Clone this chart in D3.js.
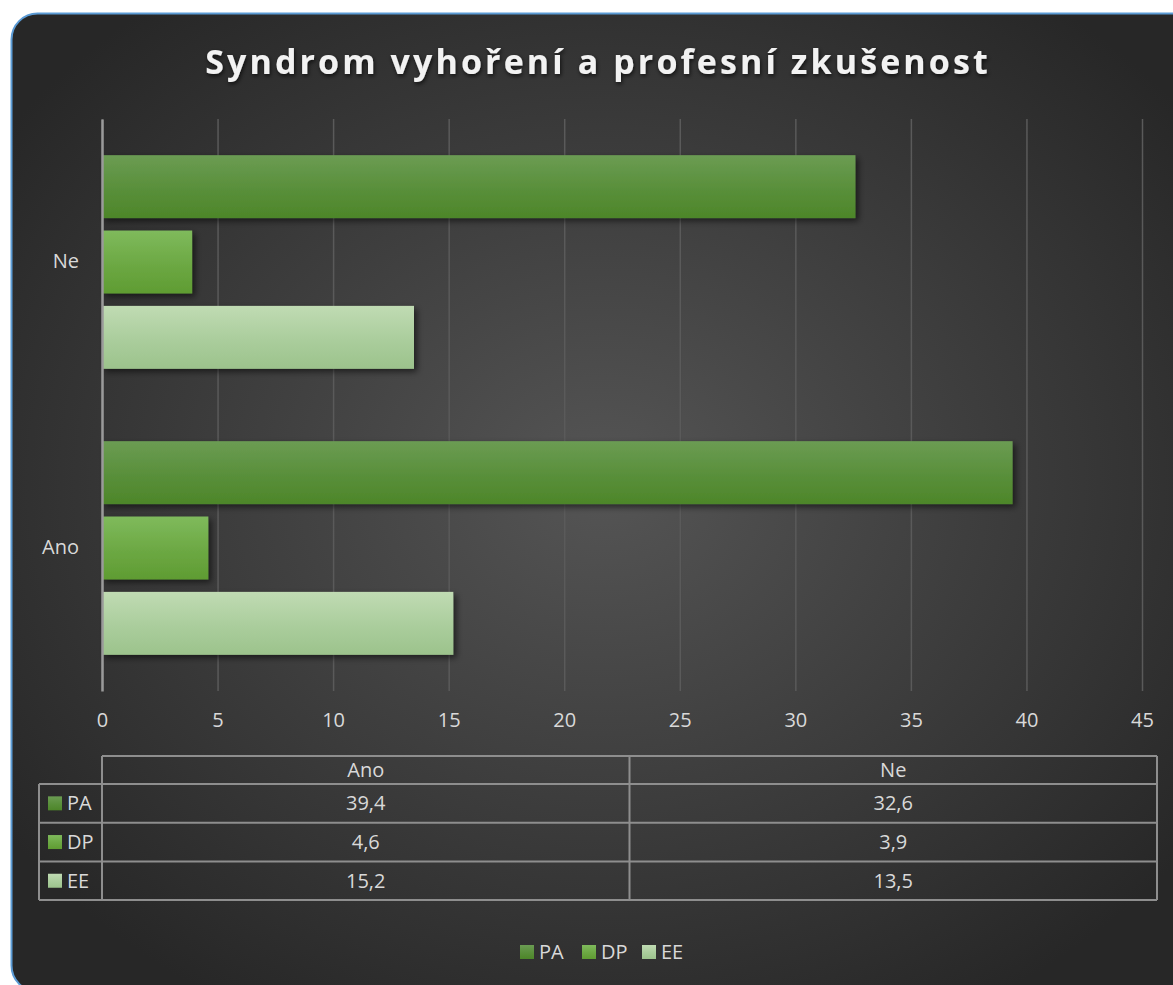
<!DOCTYPE html>
<html>
<head>
<meta charset="utf-8">
<script src="https://cdn.jsdelivr.net/npm/d3@7"></script>
<style>
  body { margin: 0; background: #fff; }
  svg text { font-family: "Open Sans", "Noto Sans", sans-serif; }
</style>
</head>
<body>
<div class="chart"></div>
<script>
// data
var categories = ["Ne", "Ano"];          // top to bottom
var seriesNames = ["PA", "DP", "EE"];
var valuesPA = {Ano: 39.4, Ne: 32.6};
var valuesDP = {Ano: 4.6, Ne: 3.9};
var valuesEE = {Ano: 15.2, Ne: 13.5};
var tableColumns = ["Ano", "Ne"];
var xTicks = [0, 5, 10, 15, 20, 25, 30, 35, 40, 45];
var titleText = "Syndrom vyhoření a profesní zkušenost";

var seriesValues = {PA: valuesPA, DP: valuesDP, EE: valuesEE};
var colors = {
  PA: ["#6b9c53", "#4d8629"],
  DP: ["#7fba5c", "#5f9c32"],
  EE: ["#c0dbb3", "#9cc38c"]
};

var W = 1173, H = 985;
var plot = {left: 102, right: 1142, top: 119, bottom: 691};
var fontSize = "20px";

var svg = d3.select(".chart").append("svg")
  .attr("width", W)
  .attr("height", H);

var defs = svg.append("defs");

var bg = defs.append("radialGradient").attr("id", "bg")
  .attr("cx", "50%").attr("cy", "48%").attr("r", "62%");
bg.append("stop").attr("offset", "0%").attr("stop-color", "#555555");
bg.append("stop").attr("offset", "100%").attr("stop-color", "#272727");

seriesNames.forEach(function(s) {
  var g = defs.append("linearGradient").attr("id", "grad" + s)
    .attr("x1", 0).attr("y1", 0).attr("x2", 0).attr("y2", 1);
  g.append("stop").attr("offset", "0%").attr("stop-color", colors[s][0]);
  g.append("stop").attr("offset", "55%").attr("stop-color", d3.interpolateRgb(colors[s][0], colors[s][1])(0.6));
  g.append("stop").attr("offset", "100%").attr("stop-color", colors[s][1]);
});

var shadow = defs.append("filter").attr("id", "shadow")
  .attr("x", "-10%").attr("y", "-20%").attr("width", "130%").attr("height", "160%");
shadow.append("feDropShadow").attr("dx", 3).attr("dy", 3)
  .attr("stdDeviation", 3).attr("flood-color", "#000").attr("flood-opacity", 0.55);

var tshadow = defs.append("filter").attr("id", "tshadow")
  .attr("x", "-5%").attr("y", "-30%").attr("width", "110%").attr("height", "160%");
tshadow.append("feDropShadow").attr("dx", 1).attr("dy", 2)
  .attr("stdDeviation", 2).attr("flood-color", "#000").attr("flood-opacity", 0.7);

// panel
svg.append("rect")
  .attr("x", 11.5).attr("y", 13.5)
  .attr("width", 1185).attr("height", 978)
  .attr("rx", 26).attr("ry", 26)
  .attr("fill", "url(#bg)")
  .attr("stroke", "#5b9bd5")
  .attr("stroke-width", 2);

// title
svg.append("text")
  .attr("x", 598).attr("y", 74)
  .attr("text-anchor", "middle")
  .attr("fill", "#f2f2f2")
  .attr("filter", "url(#tshadow)")
  .style("font-size", "34px")
  .style("font-weight", "bold")
  .style("letter-spacing", "3.1px")
  .text(titleText);

var x = d3.scaleLinear().domain([0, 45]).range([plot.left, plot.right]);
var y0 = d3.scaleBand().domain(categories).range([plot.top, plot.bottom]);
var y1 = d3.scaleBand().domain(seriesNames).range([0, y0.bandwidth()])
  .paddingInner(0.165).paddingOuter(0.48);

// gridlines + x tick labels
var xAxis = d3.axisBottom(x).tickValues(xTicks).tickSize(-(plot.bottom - plot.top)).tickPadding(22);
var gx = svg.append("g")
  .attr("transform", "translate(0," + plot.bottom + ")")
  .call(xAxis);
gx.select(".domain").remove();
gx.selectAll("line").attr("stroke", "#5a5a5a").attr("stroke-width", 1.5);
gx.selectAll("text").attr("fill", "#d9d9d9").style("font-size", fontSize);

// bars
var groups = svg.selectAll(".cat")
  .data(categories)
  .enter().append("g")
  .attr("class", "cat")
  .attr("transform", function(d) { return "translate(0," + y0(d) + ")"; });

groups.selectAll("rect")
  .data(function(c) { return seriesNames.map(function(s) { return {s: s, v: seriesValues[s][c]}; }); })
  .enter().append("rect")
  .attr("x", x(0))
  .attr("y", function(d) { return y1(d.s); })
  .attr("width", function(d) { return x(d.v) - x(0); })
  .attr("height", y1.bandwidth())
  .attr("fill", function(d) { return "url(#grad" + d.s + ")"; })
  .attr("filter", "url(#shadow)");

// y axis
var yAxis = d3.axisLeft(y0).tickSize(0).tickPadding(23);
var gy = svg.append("g")
  .attr("transform", "translate(" + plot.left + ",0)")
  .call(yAxis);
gy.select(".domain").attr("stroke", "#9a9a9a").attr("stroke-width", 2.5);
gy.selectAll("text").attr("fill", "#d9d9d9").style("font-size", fontSize);

// data table
var fmt = d3.formatLocale({decimal: ",", thousands: " ", grouping: [3], currency: ["", ""]}).format(".1f");
var tbl = {left: 39, mid: 102, right: 1157, top: 756, head: 784, rowH: 38.7};
var colX = d3.scaleBand().domain(tableColumns).range([tbl.mid, tbl.right]);
var rowY = d3.scaleBand().domain(seriesNames).range([tbl.head, tbl.head + tbl.rowH * seriesNames.length]);
var tableBottom = tbl.head + tbl.rowH * seriesNames.length;
var lineCol = "#8e8e8e";
var tg = svg.append("g").attr("class", "table");

function hline(x1, x2, yy) {
  tg.append("line").attr("x1", x1).attr("x2", x2).attr("y1", yy).attr("y2", yy)
    .attr("stroke", lineCol).attr("stroke-width", 2);
}
function vline(xx, y1_, y2_) {
  tg.append("line").attr("x1", xx).attr("x2", xx).attr("y1", y1_).attr("y2", y2_)
    .attr("stroke", lineCol).attr("stroke-width", 2);
}
hline(tbl.mid, tbl.right, tbl.top);
seriesNames.forEach(function(s) { hline(tbl.left, tbl.right, rowY(s)); });
hline(tbl.left, tbl.right, tableBottom);
vline(tbl.left, tbl.head, tableBottom);
vline(tbl.mid, tbl.top, tableBottom);
tableColumns.forEach(function(c) { vline(colX(c) + colX.bandwidth(), tbl.top, tableBottom); });

tg.selectAll(".colhead")
  .data(tableColumns)
  .enter().append("text")
  .attr("x", function(c) { return colX(c) + colX.bandwidth() / 2; })
  .attr("y", (tbl.top + tbl.head) / 2)
  .attr("dy", "0.35em")
  .attr("text-anchor", "middle")
  .attr("fill", "#d9d9d9")
  .style("font-size", fontSize)
  .text(function(c) { return c; });

seriesNames.forEach(function(s) {
  var cy = rowY(s) + rowY.bandwidth() / 2;
  tg.append("rect")
    .attr("x", 48).attr("y", cy - 7)
    .attr("width", 14).attr("height", 14)
    .attr("fill", "url(#grad" + s + ")");
  tg.append("text")
    .attr("x", 67).attr("y", cy).attr("dy", "0.35em")
    .attr("fill", "#d9d9d9").style("font-size", fontSize)
    .text(s);
  tableColumns.forEach(function(c) {
    tg.append("text")
      .attr("x", colX(c) + colX.bandwidth() / 2)
      .attr("y", cy).attr("dy", "0.35em")
      .attr("text-anchor", "middle")
      .attr("fill", "#d9d9d9").style("font-size", fontSize)
      .text(fmt(seriesValues[s][c]));
  });
});

// legend
var legendX = d3.scaleOrdinal().domain(seriesNames).range([520, 582, 642]);
var lg = svg.append("g").attr("class", "legend");
seriesNames.forEach(function(s) {
  lg.append("rect")
    .attr("x", legendX(s)).attr("y", 945)
    .attr("width", 14).attr("height", 14)
    .attr("fill", "url(#grad" + s + ")");
  lg.append("text")
    .attr("x", legendX(s) + 19).attr("y", 952).attr("dy", "0.35em")
    .attr("fill", "#d9d9d9").style("font-size", fontSize)
    .text(s);
});
</script>
</body>
</html>
